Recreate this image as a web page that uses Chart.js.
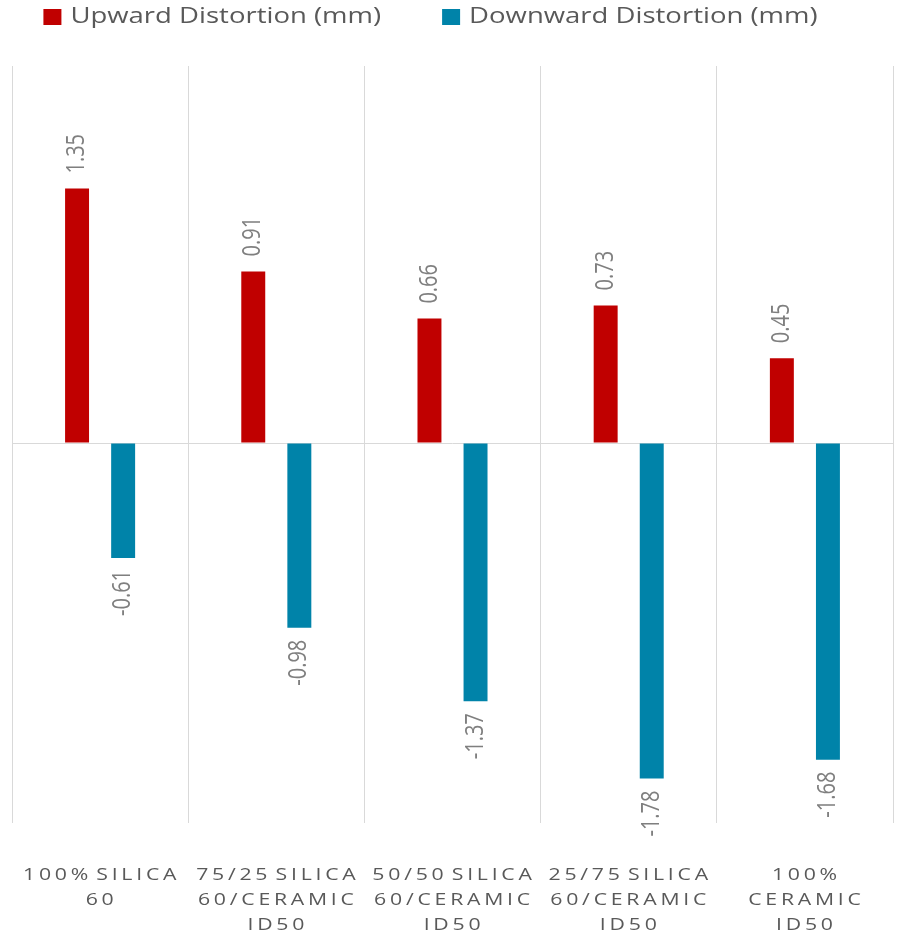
<!DOCTYPE html>
<html>
<head>
<meta charset="utf-8">
<script src="https://cdn.jsdelivr.net/npm/chart.js@4.4.0/dist/chart.umd.min.js"></script>
<style>
  html, body { margin: 0; padding: 0; background: #fff; }
  #wrap { width: 901px; height: 933px; }
</style>
</head>
<body>
<div id="wrap"><canvas id="distortionChart"></canvas></div>
<script>
// Chart data
const categories = [
  ['100% SILICA', '60'],
  ['75/25 SILICA', '60/CERAMIC', 'ID50'],
  ['50/50 SILICA', '60/CERAMIC', 'ID50'],
  ['25/75 SILICA', '60/CERAMIC', 'ID50'],
  ['100%', 'CERAMIC', 'ID50']
];
const seriesNames = ['Upward Distortion (mm)', 'Downward Distortion (mm)'];
const upwardValues = [1.35, 0.91, 0.66, 0.73, 0.45];
const downwardValues = [-0.61, -0.98, -1.37, -1.78, -1.68];
const seriesColors = ['#C00000', '#0083A9'];
const yRange = [-2, 2];

// the reference text looks horizontally stretched
const STRETCH = 1.25;
const FONT = '"Open Sans", "DejaVu Sans", sans-serif';

// rotated value labels at the end of each bar
const barLabels = {
  id: 'barLabels',
  afterDatasetsDraw(chart) {
    const ctx = chart.ctx;
    ctx.save();
    ctx.font = '20px ' + FONT;
    ctx.fillStyle = '#7f7f7f';
    ctx.textBaseline = 'middle';
    chart.data.datasets.forEach((ds, di) => {
      chart.getDatasetMeta(di).data.forEach((bar, i) => {
        const v = ds.data[i];
        const up = v >= 0;
        ctx.save();
        ctx.translate(bar.x, bar.y + (up ? -15 : 12));
        ctx.scale(STRETCH, 1);
        ctx.rotate(-Math.PI / 2);
        ctx.textAlign = up ? 'left' : 'right';
        ctx.fillText(v.toFixed(2), 0, 0);
        ctx.restore();
      });
    });
    ctx.restore();
  }
};

// legend on top, drawn by hand so spacing can match
const topLegend = {
  id: 'topLegend',
  afterDraw(chart) {
    const ctx = chart.ctx;
    ctx.save();
    ctx.font = '22px ' + FONT;
    ctx.textBaseline = 'middle';
    const box = 18, boxH = 16, gapText = 9, gapItem = 61;
    const widths = seriesNames.map(n => ctx.measureText(n).width * STRETCH);
    const total = widths.reduce((a, w) => a + box + gapText + w, 0) + gapItem;
    let x = (chart.width - total) / 2 - 20;
    const y = 17;
    seriesNames.forEach((name, i) => {
      ctx.fillStyle = seriesColors[i];
      ctx.fillRect(x, y - boxH / 2, box, boxH);
      x += box + gapText;
      ctx.save();
      ctx.translate(x, y);
      ctx.scale(STRETCH, 1);
      ctx.fillStyle = '#595959';
      ctx.textAlign = 'left';
      ctx.fillText(name, 0, 0);
      ctx.restore();
      x += widths[i] + gapItem;
    });
    ctx.restore();
  }
};

// letter-spaced category labels under the plot
const categoryLabels = {
  id: 'categoryLabels',
  afterDraw(chart) {
    const ctx = chart.ctx;
    const xScale = chart.scales.x;
    const bottom = chart.chartArea.bottom;
    ctx.save();
    ctx.font = '17px ' + FONT;
    ctx.fillStyle = '#595959';
    ctx.textAlign = 'center';
    ctx.textBaseline = 'middle';
    const spacing = 3;
    ctx.letterSpacing = spacing + 'px';
    ctx.wordSpacing = '-4px';
    categories.forEach((lines, i) => {
      const cx = xScale.getPixelForValue(i);
      lines.forEach((line, li) => {
        ctx.save();
        ctx.translate(cx + spacing / 2, bottom + 55 + li * 25);
        ctx.scale(STRETCH, 1);
        ctx.fillText(line, 0, 0);
        ctx.restore();
      });
    });
    ctx.restore();
  }
};

new Chart(document.getElementById('distortionChart'), {
  type: 'bar',
  data: {
    labels: categories,
    datasets: [{
      label: seriesNames[0],
      data: upwardValues,
      backgroundColor: seriesColors[0],
      categoryPercentage: 0.523,
      barPercentage: 0.52
    }, {
      label: seriesNames[1],
      data: downwardValues,
      backgroundColor: seriesColors[1],
      categoryPercentage: 0.523,
      barPercentage: 0.52
    }]
  },
  options: {
    responsive: true,
    maintainAspectRatio: false,
    animation: false,
    layout: { padding: { top: 66, bottom: 110, left: 12, right: 8 } },
    plugins: {
      legend: { display: false },
      tooltip: { enabled: false }
    },
    scales: {
      x: {
        grid: { color: '#d9d9d9', offset: true, drawTicks: true, tickLength: 3 },
        border: { display: false },
        ticks: { display: false }
      },
      y: {
        min: yRange[0],
        max: yRange[1],
        grid: {
          color: c => (c.tick && c.tick.value === 0 ? '#d9d9d9' : 'rgba(0,0,0,0)'),
          drawTicks: false
        },
        border: { display: false },
        ticks: { display: false, stepSize: 1 }
      }
    }
  },
  plugins: [barLabels, topLegend, categoryLabels]
});
</script>
</body>
</html>
